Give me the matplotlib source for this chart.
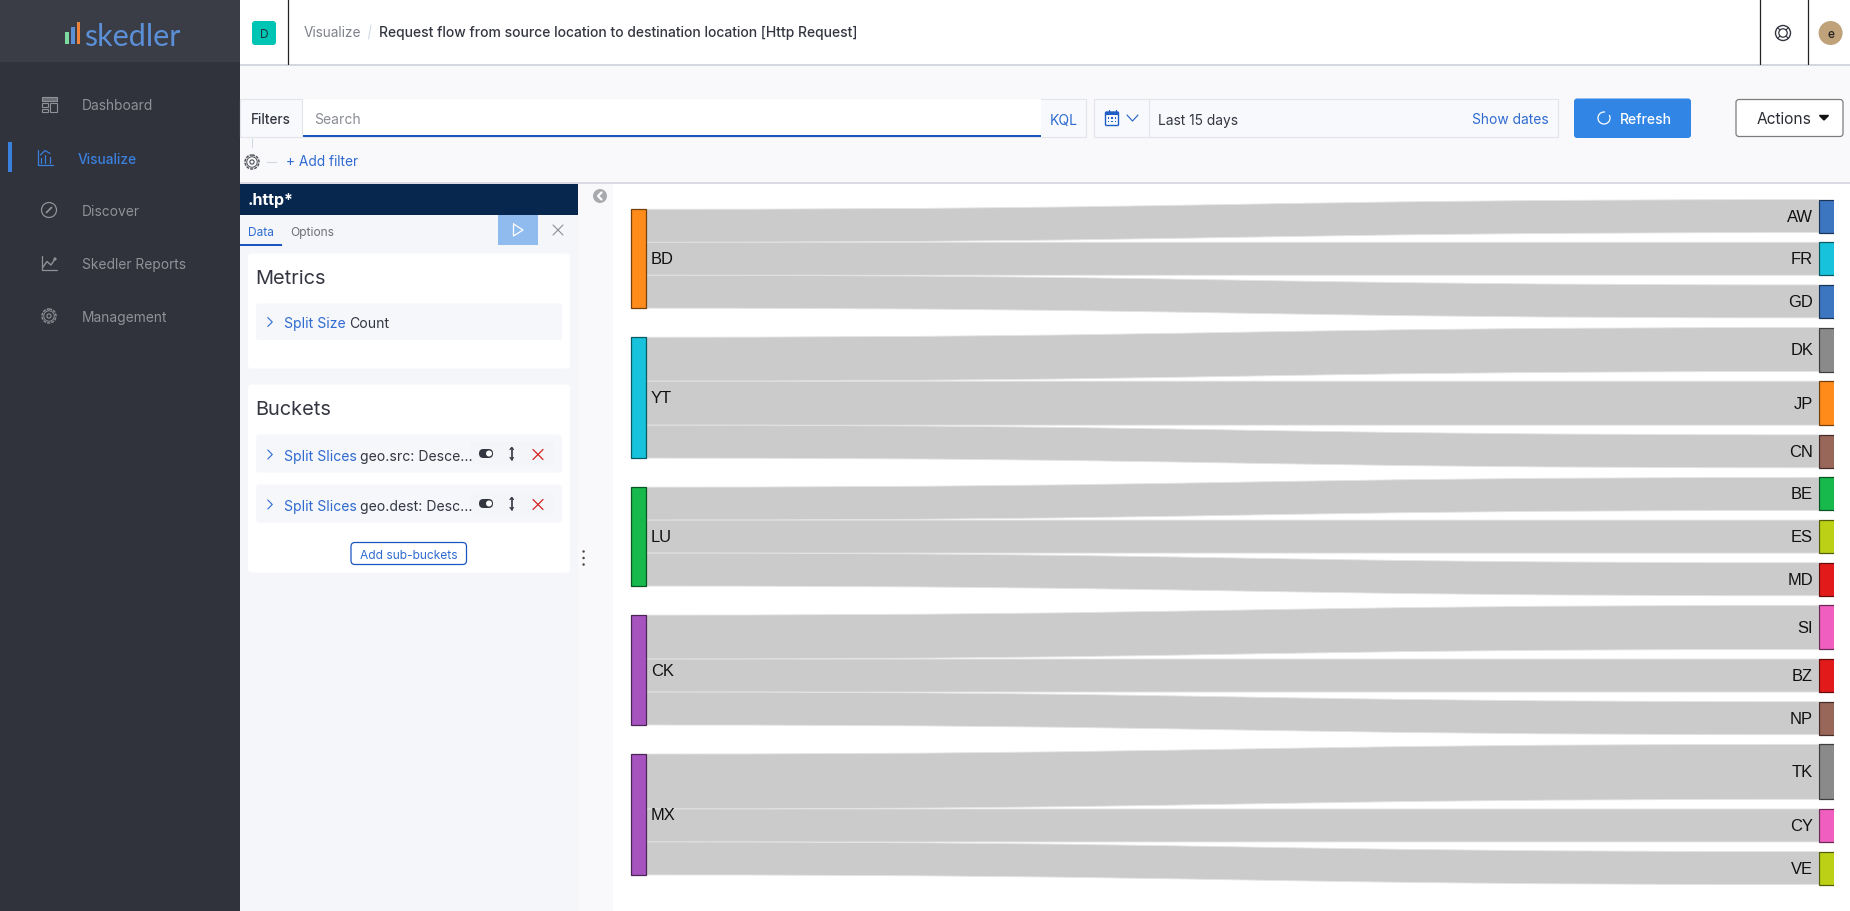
import matplotlib
matplotlib.use('Agg')
import matplotlib.pyplot as plt
from matplotlib.patches import Rectangle, FancyBboxPatch, Circle, PathPatch, Arc
from matplotlib.path import Path

W, H = 1850, 912

# Sankey data: geo.src -> geo.dest, split size is the count
SOURCES = ['BD', 'YT', 'LU', 'CK', 'MX']
SOURCE_COLORS = ['#ff8c1a', '#17c3dc', '#17b84c', '#a653c0', '#a653c0']
TARGETS = ['AW', 'FR', 'GD', 'DK', 'JP', 'CN', 'BE', 'ES', 'MD', 'SI', 'BZ', 'NP', 'TK', 'CY', 'VE']
TARGET_COLORS = ['#3c76c0', '#17c3dc', '#3c76c0', '#8a8a8a', '#ff8c1a', '#99665a', '#17b84c', '#bcd016',
                 '#e21a1a', '#f05fc0', '#e21a1a', '#99665a', '#8a8a8a', '#f05fc0', '#bcd016']
TARGET_VALUES = [3, 3, 3, 4, 4, 3, 3, 3, 3, 4, 3, 3, 5, 3, 3]
TARGET_SOURCE = [0, 0, 0, 1, 1, 1, 2, 2, 2, 3, 3, 3, 4, 4, 4]

MENU_ITEMS = ['Dashboard', 'Visualize', 'Discover', 'Skedler Reports', 'Management']

UI_FONT = 'Inter'
DARK = '#343741'
BLUE = '#1f5fc4'
LINK_BLUE = '#2f6bd0'


def px(size):
    # css pixels to points at dpi 100
    return size * 0.72


def box(ax, x0, y0, x1, y1, color, edge='none', lw=0, z=1):
    ax.add_patch(Rectangle((x0, y0), x1 - x0, y1 - y0, facecolor=color, edgecolor=edge, linewidth=lw, zorder=z))


def rbox(ax, x0, y0, x1, y1, color, edge='none', lw=0, r=3, z=2):
    ax.add_patch(FancyBboxPatch((x0, y0), x1 - x0, y1 - y0, boxstyle=f'round,pad=0,rounding_size={r}',
                                facecolor=color, edgecolor=edge, linewidth=lw, zorder=z))


def label(ax, x, y, s, size=14, color=DARK, ha='left', weight='normal', family=UI_FONT):
    return ax.text(x, y, s, fontsize=px(size), color=color, ha=ha, va='center_baseline', weight=weight,
                   family=family, zorder=6)


def line(ax, xs, ys, color, lw=1.0, z=4):
    ax.plot(xs, ys, color=color, linewidth=lw, zorder=z, solid_capstyle='round')


def draw_cross(ax, x, y, r, color, lw=1.0):
    line(ax, [x - r, x + r], [y - r, y + r], color, lw)
    line(ax, [x - r, x + r], [y + r, y - r], color, lw)


def draw_chevron(ax, x, y, r, color, lw=1.0):
    line(ax, [x - r / 2, x + r / 2, x - r / 2], [y - r, y, y + r], color, lw)


def draw_gear(ax, x, y, r, color):
    ax.add_patch(Circle((x, y), r, facecolor='none', edgecolor=color, linewidth=1.0, linestyle=(0, (2.2, 0.8)), zorder=4))
    ax.add_patch(Circle((x, y), r * 0.75, facecolor='none', edgecolor=color, linewidth=0.7, zorder=4))
    ax.add_patch(Circle((x, y), r * 0.3, facecolor='none', edgecolor=color, linewidth=0.8, zorder=4))


def draw_sidebar(ax):
    box(ax, 0, 0, 240, H, '#30333c')
    box(ax, 0, 0, 240, 63, '#3a3d46')
    # logo
    box(ax, 65, 33, 68.5, 45, '#7cd9a0', z=3)
    box(ax, 71, 28, 74.5, 45, '#5b8fd6', z=3)
    box(ax, 76.5, 23, 80, 45, '#f0843c', z=3)
    label(ax, 84, 34.5, 'skedler', size=30.5, color='#5b8fd6', family='Lato')

    ys = [105, 158, 211, 264, 317]
    for name, y in zip(MENU_ITEMS, ys):
        if name == 'Visualize':
            label(ax, 78, y, name, color='#3a80dd', weight='medium', size=13.8)
        else:
            label(ax, 82, y, name, color='#8f9298', size=13.8)
    icon = '#8f9298'
    # dashboard icon
    box(ax, 41.5, 97.5, 57, 102, '#6b6e75', icon, 0.8, z=4)
    box(ax, 41.5, 104, 48, 108, 'none', icon, 0.8, z=4)
    box(ax, 41.5, 109.5, 48, 112.5, 'none', icon, 0.8, z=4)
    box(ax, 50, 104, 57, 112.5, 'none', icon, 0.8, z=4)
    # visualize icon
    blue = '#3a80dd'
    line(ax, [37.5, 37.5, 52.5], [151, 165.5, 165.5], blue, 0.9)
    line(ax, [40.5, 45, 50], [156, 151.5, 154.5], blue, 0.9)
    for bx, top in zip([40.5, 45, 50], [159, 156, 158]):
        line(ax, [bx, bx], [top, 163.5], blue, 0.9)
    # discover icon
    ax.add_patch(Circle((49, 211), 7.5, facecolor='none', edgecolor=icon, linewidth=0.9, zorder=4))
    line(ax, [46.5, 51.5], [213.5, 208.5], icon, 1.3)
    # reports icon
    line(ax, [41.5, 41.5, 57], [257, 270.5, 270.5], icon, 0.9)
    line(ax, [43, 47, 51, 55], [268, 262.5, 266, 260], icon, 1.0)
    ax.add_patch(Circle((55, 260), 1.6, facecolor=icon, edgecolor='none', zorder=4))
    # management icon
    draw_gear(ax, 49, 317, 7, icon)
    # active marker
    box(ax, 8, 143, 12, 173, '#3a80dd', z=3)


def draw_topbar(ax):
    box(ax, 240, 0, W, 65, 'white')
    box(ax, 240, 65, W, 67, '#d5d7de', z=2)
    for x in [287.5, 1759.7, 1807.7]:
        line(ax, [x, x], [0, 65], '#222222', 0.9)
    rbox(ax, 252, 22, 276, 46, '#00c4b4', r=3)
    label(ax, 264, 33.5, 'D', size=12, ha='center', color='#1d3b3b')
    label(ax, 304, 31.5, 'Visualize', color='#7d818a', size=13.6)
    line(ax, [368.5, 371], [40, 26], '#d3dae6', 0.8)
    label(ax, 379, 31.5, 'Request flow from source location to destination location [Http Request]',
          weight='medium', size=13.88)
    # help ring
    ax.add_patch(Circle((1783, 34), 7.5, facecolor='none', edgecolor=DARK, linewidth=1.0, zorder=4))
    ax.add_patch(Circle((1783, 34), 4.2, facecolor='none', edgecolor=DARK, linewidth=0.9, zorder=4))
    for dx, dy in [(-1, -1), (1, -1), (-1, 1), (1, 1)]:
        line(ax, [1783 + 3 * dx, 1783 + 5.4 * dx], [34 + 3 * dy, 34 + 5.4 * dy], DARK, 0.8)
    ax.add_patch(Circle((1830.6, 34), 12, facecolor='#bfa27a', edgecolor='none', zorder=4))
    label(ax, 1830.6, 34, 'e', size=12, ha='center', color='#222222', weight='medium')


def draw_query_bar(ax):
    box(ax, 240, 67, W, 183, '#f9f9fb', z=1)
    box(ax, 240, 183, W, 184.5, '#d9dae2', z=2)
    # filters + search + kql as one control
    box(ax, 240, 99.5, 1086, 138, '#f8f9fd', '#e3e5eb', 0.8, z=2)
    label(ax, 251, 119, 'Filters', weight='medium', size=13.5)
    line(ax, [301.5, 301.5], [100, 138], '#e3e5eb', 0.8)
    box(ax, 302, 100, 1041, 136, 'white', z=2)
    box(ax, 302, 136, 1041, 138, '#1a56c0', z=3)
    label(ax, 314, 119, 'Search', color='#8a8d94')
    label(ax, 1050, 119, 'KQL', color=LINK_BLUE)
    # date picker
    box(ax, 1094, 99.5, 1558, 138, '#f8f9fd', '#e3e5eb', 0.8, z=2)
    line(ax, [1148.5, 1148.5], [100, 138], '#e3e5eb', 0.8)
    rbox(ax, 1105.5, 113, 1118.5, 126.5, 'none', BLUE, 1.0, r=1, z=4)
    box(ax, 1105.5, 113, 1118.5, 116, BLUE, z=4)
    for x in [1108.5, 1115.5]:
        line(ax, [x, x], [111, 114], BLUE, 0.9)
    for cx in [1108.5, 1112, 1115.5]:
        for cy in [119, 122.5]:
            box(ax, cx - 0.7, cy - 0.7, cx + 0.7, cy + 0.7, BLUE, z=4)
    line(ax, [1127, 1132.5, 1138], [116, 122, 116], BLUE, 0.8)
    label(ax, 1158, 119, 'Last 15 days', size=13.8)
    label(ax, 1549, 119, 'Show dates', color=LINK_BLUE, ha='right', size=13.8)
    # refresh
    rbox(ax, 1574, 99.5, 1691, 139, '#3185e5', r=3)
    ax.add_patch(Arc((1604, 119), 12, 12, theta1=-30, theta2=280, edgecolor='white', linewidth=0.9, zorder=4))
    label(ax, 1620, 119, 'Refresh', color='white', weight='medium')
    # actions
    rbox(ax, 1736, 100.5, 1843, 137.5, 'white', '#7d7d7d', 0.9, r=3)
    label(ax, 1757, 118.5, 'Actions', size=15.5, color='#2b2d35')
    ax.fill([1819.5, 1828.5, 1824], [116.5, 116.5, 121], color='#111111', zorder=5)
    # filter row
    line(ax, [252, 252], [139, 148], '#d3dae6', 0.8)
    draw_gear(ax, 252, 163, 7, '#4a4d55')
    line(ax, [267, 276], [163, 163], '#d3dae6', 0.9)
    label(ax, 285.5, 161, '+ Add filter', color=LINK_BLUE, size=13.7)


def draw_bucket_row(ax, y0, y1, field):
    yc = (y0 + y1) / 2
    rbox(ax, 256, y0, 562, y1, '#f6f7fb', r=3, z=3)
    draw_chevron(ax, 270, yc + 1, 4.5, LINK_BLUE, 0.8)
    label(ax, 284, yc + 0.8, 'Split Slices', color=LINK_BLUE)
    label(ax, 360, yc + 0.8, field)
    rbox(ax, 470.5, yc - 11, 554, yc + 11, '#f4f5f9', r=3, z=3)
    rbox(ax, 479, yc - 4.5, 493, yc + 4.5, DARK, r=4.4, z=4)
    ax.add_patch(Circle((489, yc), 3, facecolor='white', edgecolor='none', zorder=5))
    line(ax, [511.7, 511.7], [yc - 6, yc + 6], DARK, 1.2)
    line(ax, [510, 511.7, 513.4], [yc - 4, yc - 6, yc - 4], DARK, 0.9)
    line(ax, [510, 511.7, 513.4], [yc + 4, yc + 6, yc + 4], DARK, 0.9)
    draw_cross(ax, 538, yc + 1, 5, '#d42020', 0.9)


def draw_editor(ax):
    box(ax, 240, 246, 578, H, '#f5f6fa')
    box(ax, 578, 184.5, 613, H, '#f9f9fb')
    box(ax, 240, 184.5, 578, 216, '#07274f', z=2)
    label(ax, 248, 199.5, '.http*', size=16, color='white', weight='bold')
    box(ax, 240, 216, 578, 246, '#f5f6fa', z=2)
    label(ax, 248, 232, 'Data', size=12, color=LINK_BLUE)
    label(ax, 290.5, 232, 'Options', size=12, color='#6d7078')
    box(ax, 240, 244.5, 282, 246.5, '#1a56c0', z=3)
    box(ax, 498, 216, 538, 246, '#90bbee', z=3)
    line(ax, [513.5, 513.5, 523, 513.5], [225, 237, 231, 225], 'white', 0.9)
    draw_cross(ax, 558, 231, 5, '#8a8d94', 0.8)
    ax.add_patch(Circle((600, 197), 7, facecolor='#a9aaae', edgecolor='none', zorder=4))
    line(ax, [601.5, 598, 601.5], [193.5, 197, 200.5], 'white', 1.6, z=5)

    # metrics card
    rbox(ax, 248, 254.5, 570, 369.5, 'white', r=3)
    label(ax, 255.5, 277.5, 'Metrics', size=20)
    rbox(ax, 256, 304.5, 562, 341, '#f6f7fb', r=3, z=3)
    draw_chevron(ax, 270, 323, 4.5, LINK_BLUE, 0.8)
    label(ax, 284, 322.8, 'Split Size', color=LINK_BLUE)
    label(ax, 349, 322.8, 'Count')

    # buckets card
    rbox(ax, 248, 385.5, 570, 573.5, 'white', r=3)
    label(ax, 255.5, 408.5, 'Buckets', size=20)
    draw_bucket_row(ax, 435.5, 473.5, 'geo.src: Desce...')
    draw_bucket_row(ax, 485.5, 523.5, 'geo.dest: Desc...')
    rbox(ax, 351, 543.5, 466.5, 565.5, 'white', '#1a56c0', 0.9, r=4, z=3)
    label(ax, 408.7, 554.7, 'Add sub-buckets', size=12, color=LINK_BLUE, ha='center')
    for y in [552.5, 559, 565.5]:
        ax.add_patch(Circle((583.6, y), 1.2, facecolor='#4a3f3f', edgecolor='none', zorder=4))


def darker(color, f=0.45):
    rgb = matplotlib.colors.to_rgb(color)
    return tuple(c * f for c in rgb)


def stack_positions(values, gap, offset=0.0):
    # top of each node, stacked with a fixed gap in value units
    tops = []
    y = offset
    for v in values:
        tops.append(y)
        y += v + gap
    return tops


def draw_sankey(fig):
    gap_left, gap_right = 2.64, 0.88
    src_values = [sum(v for v, s in zip(TARGET_VALUES, TARGET_SOURCE) if s == i) for i in range(len(SOURCES))]
    total_right = sum(TARGET_VALUES) + gap_right * (len(TARGETS) - 1)
    total_left = sum(src_values) + gap_left * (len(SOURCES) - 1)
    src_tops = stack_positions(src_values, gap_left, (total_right - total_left) / 2)
    tgt_tops = stack_positions(TARGET_VALUES, gap_right)

    # sankey area in pixels; y axis is in value units
    top_px, bot_px = 200.6, 885.6
    unit = (bot_px - top_px) / total_right
    ax_top, ax_bot = 190, 895
    ax_left, ax_right = 625, 1834
    ax = fig.add_axes([ax_left / W, 1 - ax_bot / H, (ax_right - ax_left) / W, (ax_bot - ax_top) / H])
    ax.set_xlim(ax_left, ax_right)
    ax.set_ylim((ax_bot - top_px) / unit, (ax_top - top_px) / unit)
    ax.axis('off')
    ax.patch.set_alpha(0)

    nx0, nx1 = 630.5, 646
    tx0, tx1 = 1819, 1840
    xm = (nx1 + tx0) / 2

    used = [0.0] * len(SOURCES)
    for tgt_top, v, s in zip(tgt_tops, TARGET_VALUES, TARGET_SOURCE):
        sy = src_tops[s] + used[s]
        used[s] += v
        verts = [(nx1, sy), (xm, sy), (xm, tgt_top), (tx0, tgt_top),
                 (tx0, tgt_top + v), (xm, tgt_top + v), (xm, sy + v), (nx1, sy + v), (nx1, sy)]
        codes = [Path.MOVETO, Path.CURVE4, Path.CURVE4, Path.CURVE4, Path.LINETO,
                 Path.CURVE4, Path.CURVE4, Path.CURVE4, Path.CLOSEPOLY]
        ax.add_patch(PathPatch(Path(verts, codes), facecolor='#cbcbcb', edgecolor='#e4e4e4', linewidth=0.6, zorder=1))

    for name, top, v, color in zip(SOURCES, src_tops, src_values, SOURCE_COLORS):
        ax.add_patch(Rectangle((nx0, top), nx1 - nx0, v, facecolor=color, edgecolor=darker(color), linewidth=0.9, zorder=3))
        ax.text(nx1 + 5, top + v / 2, name, fontsize=px(16.5), family='Liberation Sans', color='#111111',
                ha='left', va='center', zorder=4)
    for name, top, v, color in zip(TARGETS, tgt_tops, TARGET_VALUES, TARGET_COLORS):
        ax.add_patch(Rectangle((tx0, top), tx1 - tx0, v, facecolor=color, edgecolor=darker(color), linewidth=0.9, zorder=3))
        ax.text(tx0 - 6, top + v / 2, name, fontsize=px(16.5), family='Liberation Sans', color='#111111',
                ha='right', va='center', zorder=4)


def main():
    fig = plt.figure(figsize=(W / 100, H / 100), dpi=100, facecolor='white')
    ax = fig.add_axes([0, 0, 1, 1])
    ax.set_xlim(0, W)
    ax.set_ylim(H, 0)
    ax.axis('off')

    draw_sidebar(ax)
    draw_topbar(ax)
    draw_query_bar(ax)
    draw_editor(ax)
    draw_sankey(fig)

    fig.savefig('out.png', dpi=100, facecolor='white')


if __name__ == '__main__':
    main()
